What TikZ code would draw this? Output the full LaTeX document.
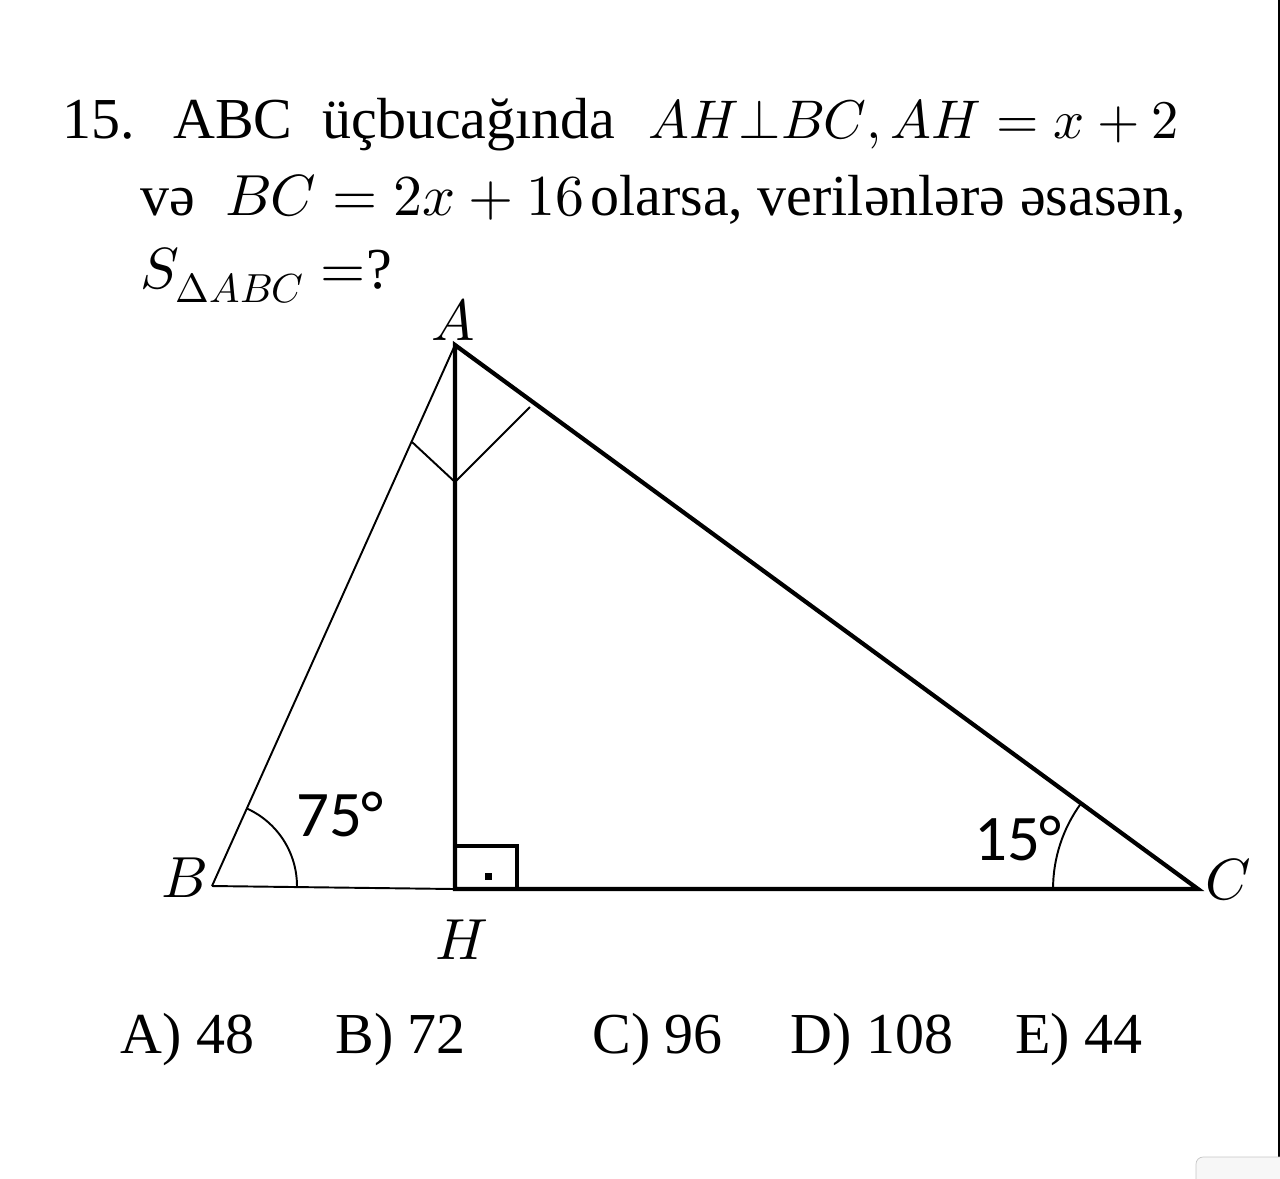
\documentclass[tikz,border=0pt]{standalone}
\usepackage{fontspec}
\usepackage{unicode-math}
\setmainfont{Liberation Serif}
\setmathfont{Latin Modern Math}
\newfontfamily\degfont{Carlito}
\usepackage{tikz}
\usetikzlibrary{angles,calc}
\newcommand{\qsize}{\fontsize{33}{40}\selectfont}
\newcommand{\msize}{\fontsize{31}{38}\selectfont}
\newcommand{\dsize}{\fontsize{37}{44}\selectfont}
\tikzset{
  thinedge/.style={line width=1.1pt,color=black},
  thickedge/.style={line width=2.4pt,color=black,line join=miter},
  anglemark/.style={draw,line width=1.1pt},
  qtext/.style={anchor=base west,inner sep=0pt,font=\qsize},
  vlabel/.style={inner sep=0pt,font=\qsize},
  degtext/.style={inner sep=0pt,font=\degfont\dsize},
}

\begin{document}
\begin{tikzpicture}[x=0.02cm,y=0.02cm]
  \useasboundingbox (0,0) rectangle (1280,-1178);

  % question text
  \node[qtext] (num) at (62,-138) {15.};
  \node[qtext] (abc) at (173,-138) {ABC};
  \node[qtext] (ucb) at (322,-138) {üçbucağında};
  \node[qtext,font=\msize] (cond1) at (648,-138) {$AH{\perp}BC,AH=x+2$};
  \node[qtext] (ve) at (140,-215) {və};
  \node[qtext] (cond2) at (225,-215) {$BC=2x+16$};
  \node[qtext] (rest) at (590,-215) {olarsa, verilənlərə əsasən,};
  \node[qtext] (ask) at (140,-288) {$S_{\Delta ABC}\;{=}$?};

  % triangle
  \coordinate (A) at (455,-345);
  \coordinate (B) at (212,-886);
  \coordinate (H) at (455,-889);
  \coordinate (C) at (1198,-889);
  \draw[thinedge] (B) -- (A);
  \draw[thinedge] (B) -- (H);
  \draw[thickedge] (H) -- (A) -- (C) -- cycle;

  % right angle at H
  \coordinate (sq) at (517,-846);
  \draw[line width=2.2pt] (H) rectangle (sq);
  \fill (484.5,-872.5) rectangle (491.5,-879.5);

  % equal angles at A
  \coordinate (mAB) at (412,-442);
  \coordinate (mAH) at (455,-482);
  \coordinate (mAC) at (530,-407);
  \draw[thinedge] (mAB) -- (mAH) -- (mAC);

  % angle arcs
  \pic[anglemark,angle radius=1.7cm] {angle=H--B--A};
  \pic[anglemark,angle radius=2.9cm] {angle=A--C--H};

  % labels
  \node[vlabel] (lA) at (453,-320) {$A$};
  \node[vlabel] (lB) at (184,-878) {$B$};
  \node[vlabel] (lC) at (1228,-880) {$C$};
  \node[vlabel] (lH) at (462,-940) {$H$};
  \node[degtext] (d75) at (340,-814) {75°};
  \node[degtext] (d15) at (1018,-838) {15°};

  % answers
  \node[qtext] (ansA) at (120,-1053) {A) 48};
  \node[qtext] (ansB) at (335,-1053) {B) 72};
  \node[qtext] (ansC) at (592,-1053) {C) 96};
  \node[qtext] (ansD) at (790,-1053) {D) 108};
  \node[qtext] (ansE) at (1015,-1053) {E) 44};

  % window edge
  \draw[line width=1.2pt] (1279,0) -- (1279,-1157);
  \draw[gray!45,fill=gray!6,rounded corners=4pt] (1196,-1190) rectangle (1290,-1157);
\end{tikzpicture}
\end{document}
